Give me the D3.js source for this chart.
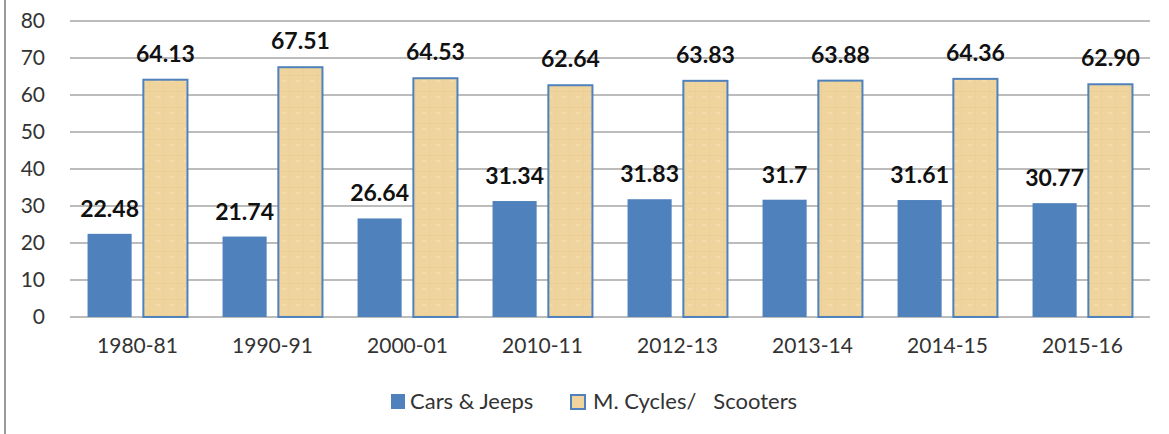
<!DOCTYPE html>
<html>
<head>
<meta charset="utf-8">
<script src="https://cdn.jsdelivr.net/npm/d3@7"></script>
<style>
  body { margin: 0; background: #fff; }
  text { font-family: Lato, "Open Sans", sans-serif; }
</style>
</head>
<body>
<div class="chart"></div>
<script>
// data
var years = ["1980-81", "1990-91", "2000-01", "2010-11", "2012-13", "2013-14", "2014-15", "2015-16"];
var cars = [22.48, 21.74, 26.64, 31.34, 31.83, 31.7, 31.61, 30.77];
var carsLabels = ["22.48", "21.74", "26.64", "31.34", "31.83", "31.7", "31.61", "30.77"];
var cycles = [64.13, 67.51, 64.53, 62.64, 63.83, 63.88, 64.36, 62.90];
var cyclesLabels = ["64.13", "67.51", "64.53", "62.64", "63.83", "63.88", "64.36", "62.90"];
var yTicks = [0, 10, 20, 30, 40, 50, 60, 70, 80];
var seriesNames = ["Cars & Jeeps", "M. Cycles/   Scooters"];

var W = 1169, H = 434;
var margin = {top: 21, right: 19, bottom: 117, left: 70};
var w = W - margin.left - margin.right,
    h = H - margin.top - margin.bottom;

var svg = d3.select('.chart').append('svg')
  .attr('width', W)
  .attr('height', H);

// frame line on the left
svg.append('line')
  .attr('x1', 5).attr('x2', 5)
  .attr('y1', 0).attr('y2', H)
  .attr('stroke', '#9a9a9a')
  .attr('stroke-width', 2);

// papery texture for the second series
var defs = svg.append('defs');
var pat = defs.append('pattern')
  .attr('id', 'paper')
  .attr('patternUnits', 'userSpaceOnUse')
  .attr('width', 14).attr('height', 16);
pat.append('rect').attr('width', 14).attr('height', 16).attr('fill', '#efd59d');
pat.append('rect').attr('x', 0).attr('y', 6).attr('width', 14).attr('height', 1).attr('fill', '#eacf96');
pat.append('rect').attr('x', 9).attr('y', 0).attr('width', 1).attr('height', 16).attr('fill', '#ebd098');
pat.append('rect').attr('x', 2).attr('y', 11).attr('width', 4).attr('height', 2).attr('fill', '#f3dcab');

var g = svg.append('g')
  .attr('transform', 'translate(' + margin.left + ',' + margin.top + ')');

var y = d3.scaleLinear().domain([0, 80]).range([h, 0]);

var x0 = d3.scaleBand()
  .domain(years)
  .range([0, w])
  .paddingInner(0.26)
  .paddingOuter(0.13);

var x1 = d3.scaleBand()
  .domain([0, 1])
  .range([0, x0.bandwidth()])
  .paddingInner(0.21);

// gridlines
g.selectAll('.grid')
  .data(yTicks)
  .enter().append('line')
  .attr('class', 'grid')
  .attr('x1', 0).attr('x2', w)
  .attr('y1', function(d) { return y(d) })
  .attr('y2', function(d) { return y(d) })
  .attr('stroke', '#a6a6a6')
  .attr('stroke-width', 1.5);

// y axis labels
var yAxis = g.append('g')
  .call(d3.axisLeft(y).tickValues(yTicks).tickSize(0).tickPadding(25));
yAxis.select('.domain').remove();
yAxis.selectAll('text')
  .attr('font-size', 21)
  .attr('fill', '#333')
  .style('font-family', 'Lato, sans-serif');

// x axis labels
var xAxis = g.append('g')
  .attr('transform', 'translate(0,' + h + ')')
  .call(d3.axisBottom(x0).tickSize(0).tickPadding(21));
xAxis.select('.domain').remove();
xAxis.selectAll('text')
  .attr('font-size', 21)
  .attr('fill', '#333')
  .style('font-family', 'Lato, sans-serif');

// cars bars
g.selectAll('.car')
  .data(cars)
  .enter().append('rect')
  .attr('class', 'car')
  .attr('x', function(d, i) { return x0(years[i]) + x1(0) })
  .attr('y', function(d) { return y(d) })
  .attr('width', x1.bandwidth())
  .attr('height', function(d) { return h - y(d) })
  .attr('fill', '#4f81bd');

// cycles bars
g.selectAll('.cyc')
  .data(cycles)
  .enter().append('rect')
  .attr('class', 'cyc')
  .attr('x', function(d, i) { return x0(years[i]) + x1(1) })
  .attr('y', function(d) { return y(d) })
  .attr('width', x1.bandwidth())
  .attr('height', function(d) { return h - y(d) })
  .attr('fill', 'url(#paper)')
  .attr('stroke', '#4f81bd')
  .attr('stroke-width', 2);

// value labels
g.selectAll('.carlbl')
  .data(cars)
  .enter().append('text')
  .attr('x', function(d, i) { return x0(years[i]) + x1(0) + x1.bandwidth() / 2 })
  .attr('y', function(d) { return y(d) - 17 })
  .attr('text-anchor', 'middle')
  .attr('font-size', 23)
  .attr('font-weight', 'bold')
  .attr('fill', '#111')
  .text(function(d, i) { return carsLabels[i] });

g.selectAll('.cyclbl')
  .data(cycles)
  .enter().append('text')
  .attr('x', function(d, i) { return x0(years[i]) + x1(1) + x1.bandwidth() / 2 })
  .attr('y', function(d) { return y(d) - 18 })
  .attr('text-anchor', 'middle')
  .attr('font-size', 23)
  .attr('font-weight', 'bold')
  .attr('fill', '#111')
  .text(function(d, i) { return cyclesLabels[i] });

// legend
var legend = svg.append('g').attr('transform', 'translate(391,394)');
legend.append('rect')
  .attr('width', 14).attr('height', 15)
  .attr('fill', '#4f81bd');
legend.append('text')
  .attr('x', 19).attr('y', 15)
  .attr('font-size', 22)
  .attr('fill', '#333')
  .text(seriesNames[0]);
legend.append('rect')
  .attr('x', 180).attr('y', 1)
  .attr('width', 14).attr('height', 14)
  .attr('fill', '#efd59d')
  .attr('stroke', '#4f81bd')
  .attr('stroke-width', 2);
legend.append('text')
  .attr('x', 202).attr('y', 15)
  .attr('font-size', 22)
  .attr('fill', '#333')
  .style('white-space', 'pre')
  .text(seriesNames[1]);
</script>
</body>
</html>
